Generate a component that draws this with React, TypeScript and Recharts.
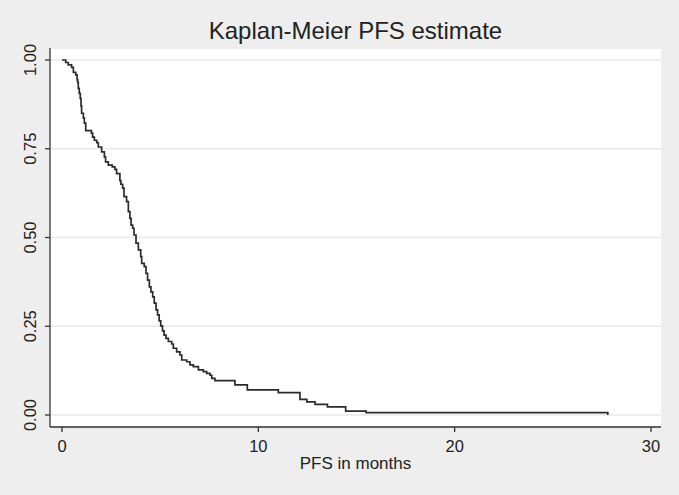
import React from 'react';
import { LineChart, Line, XAxis, YAxis, CartesianGrid } from 'recharts';

// Kaplan-Meier step points: time (months) at which survival drops to the given level
const times = [
  0, 0.19, 0.32, 0.49, 0.58, 0.70, 0.77, 0.80, 0.83, 0.88, 0.93, 0.97, 1.0, 1.09, 1.14, 1.21, 1.5,
  1.56, 1.65, 1.77, 1.85, 2.02, 2.16, 2.22, 2.36, 2.56, 2.70, 2.78, 2.95, 3.0, 3.09, 3.16, 3.29,
  3.38, 3.46, 3.52, 3.60, 3.67, 3.77, 3.89, 4.01, 4.06, 4.19, 4.28, 4.36, 4.45, 4.53, 4.62, 4.70,
  4.79, 4.87, 4.95, 5.03, 5.12, 5.2, 5.30, 5.42, 5.59, 5.67, 5.84, 6.01, 6.10, 6.35, 6.52, 6.69,
  6.95, 7.20, 7.37, 7.54, 7.63, 7.79, 8.81, 9.44, 11.02, 12.12, 12.47, 12.89, 13.52, 14.45, 15.49,
  27.8,
];
const survival = [
  1.0, 0.993, 0.986, 0.979, 0.965, 0.958, 0.944, 0.937, 0.920, 0.906, 0.892, 0.871, 0.850, 0.836,
  0.822, 0.801, 0.794, 0.783, 0.774, 0.767, 0.755, 0.741, 0.727, 0.713, 0.704, 0.699, 0.692, 0.680,
  0.660, 0.650, 0.639, 0.615, 0.601, 0.573, 0.554, 0.535, 0.526, 0.507, 0.484, 0.465, 0.446, 0.427,
  0.418, 0.399, 0.380, 0.361, 0.347, 0.333, 0.315, 0.296, 0.282, 0.265, 0.251, 0.237, 0.225, 0.216,
  0.207, 0.200, 0.188, 0.178, 0.169, 0.155, 0.150, 0.141, 0.136, 0.127, 0.122, 0.117, 0.112, 0.103,
  0.097, 0.085, 0.071, 0.063, 0.044, 0.037, 0.030, 0.023, 0.011, 0.0065, 0.0,
];
const xTicks = [0, 10, 20, 30];
const yTicks = [0, 0.25, 0.5, 0.75, 1];
const title = 'Kaplan-Meier PFS estimate';
const xLabel = 'PFS in months';

const data = times.map((t, i) => ({ t, s: survival[i] }));

const FONT = '"Liberation Sans", Arial, Helvetica, sans-serif';
const AXIS = '#333333';

const YTick = (props: any) => {
  const { y, payload } = props;
  const cx = 30;
  return (
    <text
      x={cx}
      y={y}
      transform={`rotate(-90 ${cx} ${y})`}
      textAnchor="middle"
      dominantBaseline="central"
      fontFamily={FONT}
      fontSize={16.5}
      fill="#222"
    >
      {Number(payload.value).toFixed(2)}
    </text>
  );
};

const XTick = (props: any) => {
  const { x, payload } = props;
  return (
    <text x={x} y={452} textAnchor="middle" fontFamily={FONT} fontSize={16.5} fill="#222">
      {payload.value}
    </text>
  );
};

export default function App() {
  return (
    <div
      style={{
        position: 'absolute',
        left: 0,
        top: 0,
        width: 679,
        height: 495,
        background: '#eeeeee',
        fontFamily: FONT,
      }}
    >
      <div
        style={{
          position: 'absolute',
          left: 50,
          width: 611,
          top: 17,
          textAlign: 'center',
          fontSize: 24,
          color: '#222',
          lineHeight: '28px',
        }}
      >
        {title}
      </div>
      <LineChart
        width={679}
        height={495}
        data={data}
        margin={{ top: 48, right: 18, bottom: 0, left: 0 }}
      >
        <CartesianGrid
          vertical={false}
          horizontal={true}
          fill="#ffffff"
          stroke="#e8e8e8"
          strokeWidth={1.5}
        />
        <XAxis
          dataKey="t"
          type="number"
          domain={[-0.61, 30.51]}
          ticks={xTicks}
          allowDataOverflow
          height={68}
          tickSize={5}
          stroke={AXIS}
          strokeWidth={1.3}
          tick={<XTick />}
        />
        <YAxis
          dataKey="s"
          type="number"
          domain={[-0.0338, 1.0338]}
          ticks={yTicks}
          allowDataOverflow
          width={50}
          tickSize={5}
          stroke={AXIS}
          strokeWidth={1.3}
          tick={<YTick />}
        />
        <Line
          type="stepAfter"
          dataKey="s"
          stroke="#2b2b2b"
          strokeWidth={1.7}
          dot={false}
          isAnimationActive={false}
        />
      </LineChart>
      <div
        style={{
          position: 'absolute',
          left: 50,
          width: 611,
          top: 454,
          textAlign: 'center',
          fontSize: 17,
          color: '#222',
          lineHeight: '20px',
        }}
      >
        {xLabel}
      </div>
    </div>
  );
}
